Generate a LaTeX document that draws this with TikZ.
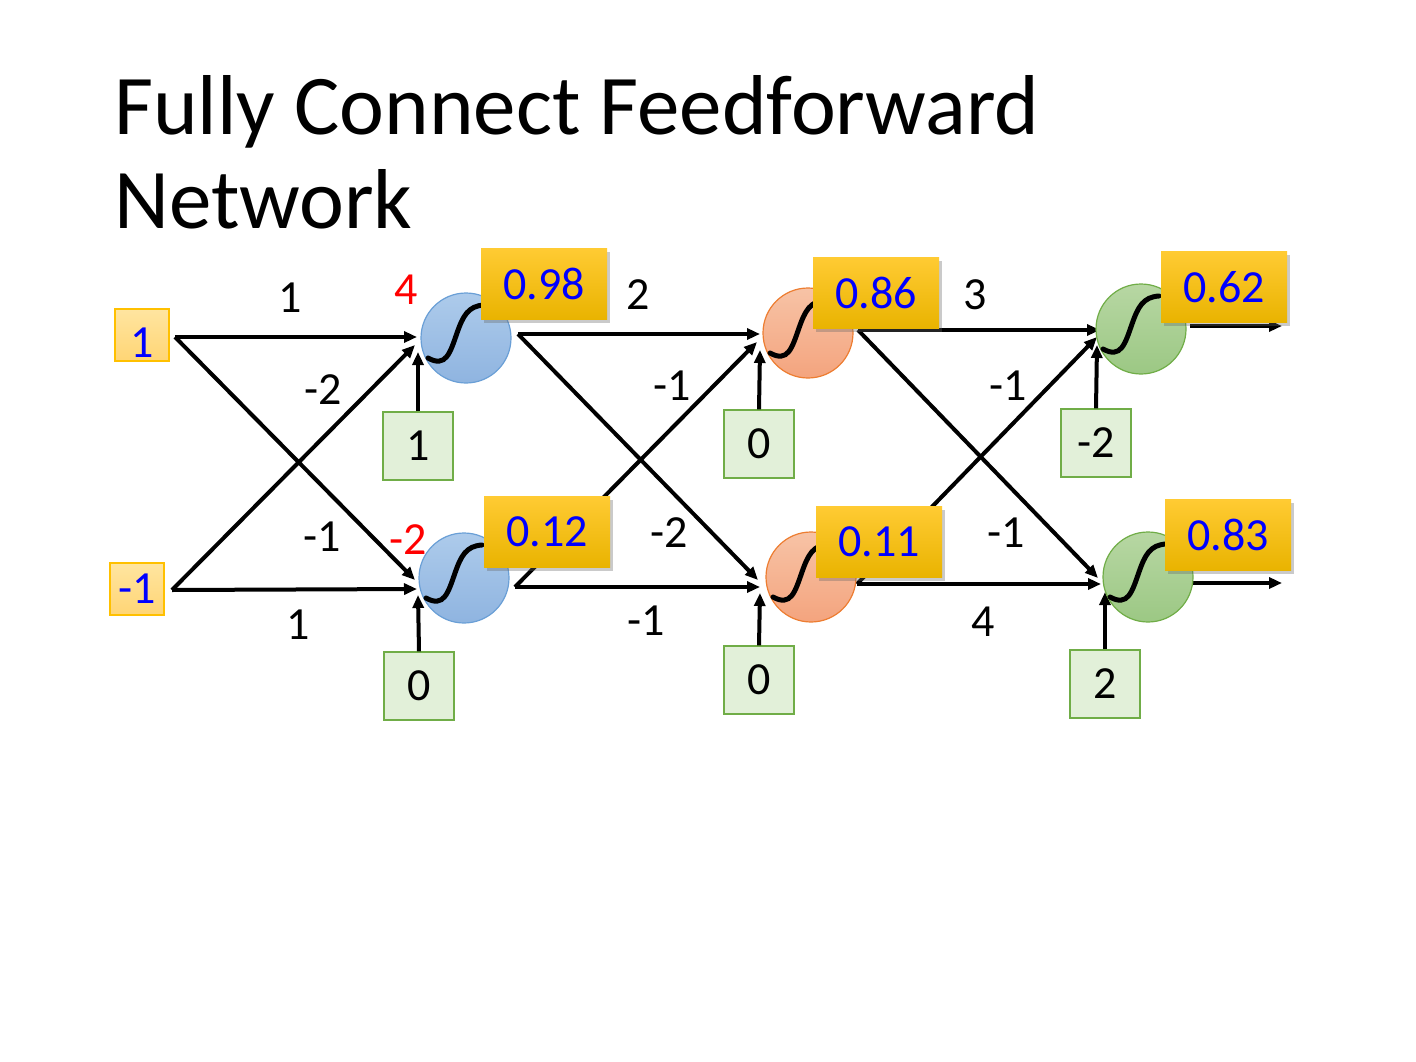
\documentclass[tikz,border=0pt]{standalone}
\usepackage{fontspec}
\setmainfont{Carlito}
\usetikzlibrary{arrows.meta,shadows}
\definecolor{goldT}{HTML}{FFCB33}
\definecolor{goldB}{HTML}{E9B300}
\definecolor{inT}{HTML}{FFE5A0}
\definecolor{inB}{HTML}{FFD575}
\definecolor{inD}{HTML}{FFC000}
\definecolor{biasF}{HTML}{E2F0D9}
\definecolor{biasD}{HTML}{70AD47}
\definecolor{bluT}{HTML}{ADCBEB}
\definecolor{bluB}{HTML}{8FB4E0}
\definecolor{bluD}{HTML}{6A9FD6}
\definecolor{orgT}{HTML}{F7C3A6}
\definecolor{orgB}{HTML}{F4A47E}
\definecolor{orgD}{HTML}{ED7D31}
\definecolor{grnT}{HTML}{B7D7A3}
\definecolor{grnB}{HTML}{9CC884}
\definecolor{grnD}{HTML}{70AD47}
\definecolor{valblue}{HTML}{0000FF}
\begin{document}
\begin{tikzpicture}[x=1pt,y=-1pt,
  num/.style={font=\fontsize{46}{50}\selectfont},
  wlab/.style={num, text=black, inner sep=0pt},
  redlab/.style={num, text=red, inner sep=0pt},
  conn/.style={line width=4pt, -{Triangle[length=13pt,width=11pt]}, shorten >=0pt},
  inbox/.style={draw=inD, line width=1.2pt, top color=inT, bottom color=inB, minimum width=54pt, minimum height=52pt, inner sep=0pt, num, text=valblue},
  outbox/.style={top color=goldT, bottom color=goldB, minimum width=126pt, minimum height=71pt, inner sep=0pt, num, text=valblue,
     drop shadow={shadow xshift=3pt, shadow yshift=-3pt, opacity=0.35, fill=black!60}},
  biasbox/.style={draw=biasD, line width=1.2pt, fill=biasF, minimum width=70pt, minimum height=68pt, inner sep=0pt, num, text=black},
  neuron/.style={circle, minimum size=90pt, inner sep=0pt, line width=1.2pt},
  nblue/.style={neuron, draw=bluD, top color=bluT, bottom color=bluB},
  norg/.style={neuron, draw=orgD, top color=orgT, bottom color=orgB},
  ngrn/.style={neuron, draw=grnD, top color=grnT, bottom color=grnB},
  sigm/.pic={\draw[line width=5pt, line cap=round] (-38,20) .. controls (-20,30) and (-16,15) .. (-9,-5) .. controls (-3,-22) and (2,-32) .. (18,-33);}
]
\useasboundingbox (0,0) rectangle (1416,1062);

% title
\node[anchor=base west, inner sep=0pt, font=\fontsize{85}{95}\selectfont] (title1) at (114,135) {Fully Connect Feedforward};
\node[anchor=base west, inner sep=0pt, font=\fontsize{85}{95}\selectfont] (title2) at (114,228) {Network};

% coordinates (connector ends)
\coordinate (x1o) at (175,337);
\coordinate (x2o) at (172,590);
\coordinate (n11h) at (417,337);
\coordinate (n11d) at (415,345);
\coordinate (n11b) at (418,352);
\coordinate (n12d) at (415,580);
\coordinate (n12h) at (417,589);
\coordinate (n12b) at (418,595);
\coordinate (n11o) at (518,334);
\coordinate (n12o) at (515,587);
\coordinate (n21h) at (760,334);
\coordinate (n21d) at (757,342);
\coordinate (n21b) at (760,350);
\coordinate (n22d) at (758,580);
\coordinate (n22h) at (760,587);
\coordinate (n22b) at (760,593);
\coordinate (n21o) at (858,330);
\coordinate (n22o) at (857,584);
\coordinate (n31h) at (1100,330);
\coordinate (n31d) at (1097,337);
\coordinate (n31b) at (1097,345);
\coordinate (n32d) at (1098,578);
\coordinate (n32h) at (1101,584);
\coordinate (n32b) at (1105,592);
\coordinate (n31o) at (1190,326);
\coordinate (n32o) at (1190,583);
\coordinate (y1) at (1282,326);
\coordinate (y2) at (1282,583);

% input boxes
\node[inbox] (x1) at (142,335) {\raisebox{-22pt}[0pt][0pt]{1}};
\node[inbox] (x2) at (137,589) {-1};

% bias boxes
\node[biasbox] (b11) at (418,446) {1};
\node[biasbox] (b12) at (419,686) {0};
\node[biasbox] (b21) at (759,444) {0};
\node[biasbox] (b22) at (759,680) {0};
\node[biasbox] (b31) at (1096,443) {-2};
\node[biasbox] (b32) at (1105,684) {2};

% connectors layer 1
\draw[conn] (x1o) -- (n11h);
\draw[conn] (x1o) -- (n12d);
\draw[conn] (x2o) -- (n12h);
\draw[conn] (x2o) -- (n11d);
\draw[conn] (b11.north) -- (n11b);
\draw[conn] (b12.north) -- (n12b);
% layer 2
\draw[conn] (n11o) -- (n21h);
\draw[conn] (n11o) -- (n22d);
\draw[conn] (n12o) -- (n22h);
\draw[conn] (n12o) -- (n21d);
\draw[conn] (b21.north) -- (n21b);
\draw[conn] (b22.north) -- (n22b);
% layer 3
\draw[conn] (n21o) -- (n31h);
\draw[conn] (n21o) -- (n32d);
\draw[conn] (n22o) -- (n32h);
\draw[conn] (n22o) -- (n31d);
\draw[conn] (b31.north) -- (n31b);
\draw[conn] (b32.north) -- (n32b);
% outputs
\draw[conn] (n31o) -- (y1);
\draw[conn] (n32o) -- (y2);

% neurons
\node[nblue] (n11) at (466,338) {};
\node[nblue] (n12) at (464,578) {};
\node[norg] (n21) at (808,333) {};
\node[norg] (n22) at (811,577) {};
\node[ngrn] (n31) at (1141,329) {};
\node[ngrn] (n32) at (1148,577) {};
\pic at (n11.center) {sigm};
\pic at (n12.center) {sigm};
\pic at (n21.center) {sigm};
\pic at (n22.center) {sigm};
\pic at (n31.center) {sigm};
\pic at (n32.center) {sigm};

% output value boxes
\node[outbox] (o11) at (544,284) {0.98};
\node[outbox] (o12) at (547,532) {0.12};
\node[outbox] (o21) at (876,293) {0.86};
\node[outbox] (o22) at (879,542) {0.11};
\node[outbox] (o31) at (1224,287) {0.62};
\node[outbox] (o32) at (1228,535) {0.83};

% weight labels
\node[wlab] (w1) at (290,298) {1};
\node[wlab] (w2) at (323,390) {-2};
\node[wlab] (w3) at (322,537) {-1};
\node[wlab] (w4) at (298,625) {1};
\node[redlab] (z1) at (406,290) {4};
\node[redlab] (z2) at (408,540) {-2};
\node[wlab] (w5) at (638,295) {2};
\node[wlab] (w6) at (672,386) {-1};
\node[wlab] (w7) at (669,533) {-2};
\node[wlab] (w8) at (646,621) {-1};
\node[wlab] (w9) at (975,295) {3};
\node[wlab] (w10) at (1008,386) {-1};
\node[wlab] (w11) at (1006,533) {-1};
\node[wlab] (w12) at (983,622) {4};
\end{tikzpicture}
\end{document}
